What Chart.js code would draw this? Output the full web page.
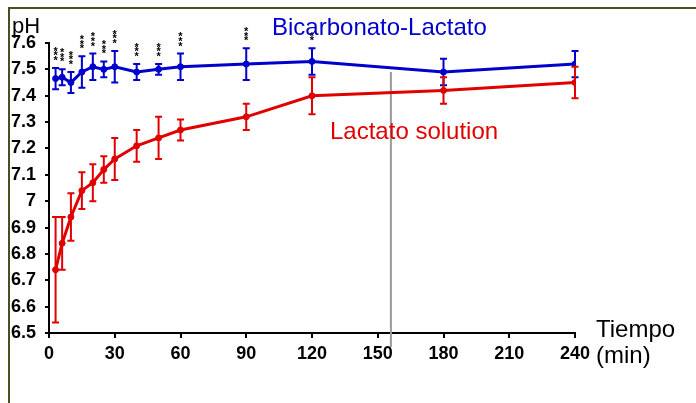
<!DOCTYPE html>
<html>
<head>
<meta charset="utf-8">
<script src="https://cdn.jsdelivr.net/npm/chart.js@4.4.1/dist/chart.umd.min.js"></script>
<style>
  html, body { margin: 0; padding: 0; background: #fff; }
  #wrap { position: relative; width: 696px; height: 403px; }
  #frame { position: absolute; left: 8px; top: 7px; right: 0; bottom: 0;
           border-left: 2px solid #4d4d22; border-top: 2px solid #4d4d22; pointer-events: none; }
  canvas { position: absolute; left: 0; top: 0; }
</style>
</head>
<body>
<div id="wrap">
  <canvas id="phChart" width="696" height="403"></canvas>
  <div id="frame"></div>
</div>
<script>
// sampling times (min)
const times = [3, 6, 10, 15, 20, 25, 30, 40, 50, 60, 90, 120, 180, 240];

// pH, Bicarbonato-Lactato
const bicarb    = [7.465, 7.47, 7.45, 7.49, 7.51, 7.50, 7.51, 7.49, 7.50, 7.51, 7.52, 7.53, 7.49, 7.52];
const bicarbErr = [0.04, 0.03, 0.04, 0.06, 0.05, 0.03, 0.06, 0.03, 0.02, 0.05, 0.06, 0.05, 0.05, 0.05];
const bicarbSig = ['***', '***', '***', '***', '***', '***', '***', '***', '***', '***', '***', '**', '', ''];

// pH, Lactato solution
const lactato    = [6.74, 6.84, 6.94, 7.04, 7.07, 7.12, 7.16, 7.21, 7.24, 7.27, 7.32, 7.40, 7.42, 7.45];
const lactatoErr = [0.20, 0.10, 0.09, 0.07, 0.07, 0.05, 0.08, 0.06, 0.08, 0.04, 0.05, 0.07, 0.05, 0.06];

// axis ticks
const xTicks = [0, 30, 60, 90, 120, 150, 180, 210, 240];
const yMin = 6.5, yMax = 7.6, yStep = 0.1;

// grey reference line (time, pH range)
const markerTime = 156;
const markerRange = [6.447, 7.49];

const BLUE = "#0000cc";
const RED = "#e00000";

// error bars + significance stars + grey marker
const errorBarPlugin = {
  id: "errorBars",
  beforeDatasetsDraw(chart) {
    const { ctx, scales: { x, y } } = chart;
    const px = x.getPixelForValue(markerTime);
    ctx.save();
    ctx.strokeStyle = "#9a9a9a";
    ctx.lineWidth = 2;
    ctx.beginPath();
    ctx.moveTo(px, y.getPixelForValue(markerRange[1]));
    ctx.lineTo(px, y.getPixelForValue(markerRange[0]));
    ctx.stroke();
    ctx.restore();
  },
  afterDatasetsDraw(chart) {
    const { ctx, scales: { x, y } } = chart;
    ctx.save();
    chart.data.datasets.forEach((ds) => {
      ctx.strokeStyle = ds.borderColor;
      ctx.fillStyle = ds.borderColor;
      ctx.lineWidth = 2;
      ds.data.forEach((p, i) => {
        const e = ds.errors[i];
        const cx = x.getPixelForValue(p.x);
        const top = y.getPixelForValue(p.y + e);
        const bot = y.getPixelForValue(p.y - e);
        ctx.beginPath();
        ctx.moveTo(cx, top); ctx.lineTo(cx, bot);
        ctx.moveTo(cx - 3.5, top); ctx.lineTo(cx + 3.5, top);
        ctx.moveTo(cx - 3.5, bot); ctx.lineTo(cx + 3.5, bot);
        ctx.stroke();
        const s = ds.stars ? ds.stars[i] : "";
        if (s) {
          ctx.save();
          ctx.fillStyle = "#000";
          ctx.font = "bold 11px 'Liberation Sans', Arial, sans-serif";
          ctx.textAlign = "center";
          ctx.textBaseline = "alphabetic";
          for (let k = 0; k < s.length; k++) {
            ctx.fillText("*", cx, top - 4 - k * 4.6);
          }
          ctx.restore();
        }
      });
    });
    ctx.restore();
  }
};

// free text labels
const textLabels = [
  { text: "pH", x: 12, y: 33, color: "#000", font: "22px 'Liberation Sans', Arial, sans-serif" },
  { text: "Bicarbonato-Lactato", x: 272, y: 35, color: BLUE, font: "24px 'Liberation Sans', Arial, sans-serif" },
  { text: "Lactato solution", x: 330, y: 139, color: RED, font: "24px 'Liberation Sans', Arial, sans-serif" },
  { text: "Tiempo", x: 596, y: 337, color: "#000", font: "24px 'Liberation Sans', Arial, sans-serif" },
  { text: "(min)", x: 596, y: 363, color: "#000", font: "24px 'Liberation Sans', Arial, sans-serif" }
];

const textPlugin = {
  id: "textLabels",
  afterDraw(chart) {
    const { ctx } = chart;
    ctx.save();
    ctx.textAlign = "left";
    ctx.textBaseline = "alphabetic";
    textLabels.forEach((t) => {
      ctx.font = t.font;
      ctx.fillStyle = t.color;
      ctx.fillText(t.text, t.x, t.y);
    });
    ctx.restore();
  }
};

const toPoints = (vals) => vals.map((v, i) => ({ x: times[i], y: v }));

new Chart(document.getElementById("phChart"), {
  type: "line",
  data: {
    datasets: [
      {
        label: "Bicarbonato-Lactato",
        data: toPoints(bicarb),
        errors: bicarbErr,
        stars: bicarbSig,
        borderColor: BLUE,
        backgroundColor: BLUE,
        borderWidth: 3,
        pointRadius: 3,
        pointBorderWidth: 1,
        tension: 0
      },
      {
        label: "Lactato solution",
        data: toPoints(lactato),
        errors: lactatoErr,
        borderColor: RED,
        backgroundColor: RED,
        borderWidth: 3,
        pointRadius: 3,
        pointBorderWidth: 1,
        tension: 0
      }
    ]
  },
  options: {
    responsive: false,
    animation: false,
    layout: { padding: { left: 0, top: 43, right: 121, bottom: 0 } },
    plugins: { legend: { display: false }, tooltip: { enabled: false } },
    scales: {
      x: {
        type: "linear",
        min: 0,
        max: 240,
        afterFit: (s) => { s.height = 70; },
        afterBuildTicks: (s) => { s.ticks = xTicks.map((v) => ({ value: v })); },
        grid: { drawOnChartArea: false, drawTicks: true, tickLength: 5, color: "#000", lineWidth: 2 },
        border: { display: true, color: "#000", width: 2 },
        ticks: {
          color: "#000",
          padding: 5,
          maxRotation: 0,
          font: { family: "'Liberation Sans', Arial, sans-serif", size: 18, weight: "bold" }
        }
      },
      y: {
        type: "linear",
        min: yMin,
        max: yMax,
        afterFit: (s) => { s.width = 49; },
        grid: { drawOnChartArea: false, drawTicks: true, tickLength: 4, color: "#000", lineWidth: 2 },
        border: { display: true, color: "#000", width: 2 },
        ticks: {
          stepSize: yStep,
          color: "#000",
          padding: 9,
          font: { family: "'Liberation Sans', Arial, sans-serif", size: 18, weight: "bold" },
          callback: (v) => String(+v.toFixed(1))
        }
      }
    }
  },
  plugins: [errorBarPlugin, textPlugin]
});
</script>
</body>
</html>
